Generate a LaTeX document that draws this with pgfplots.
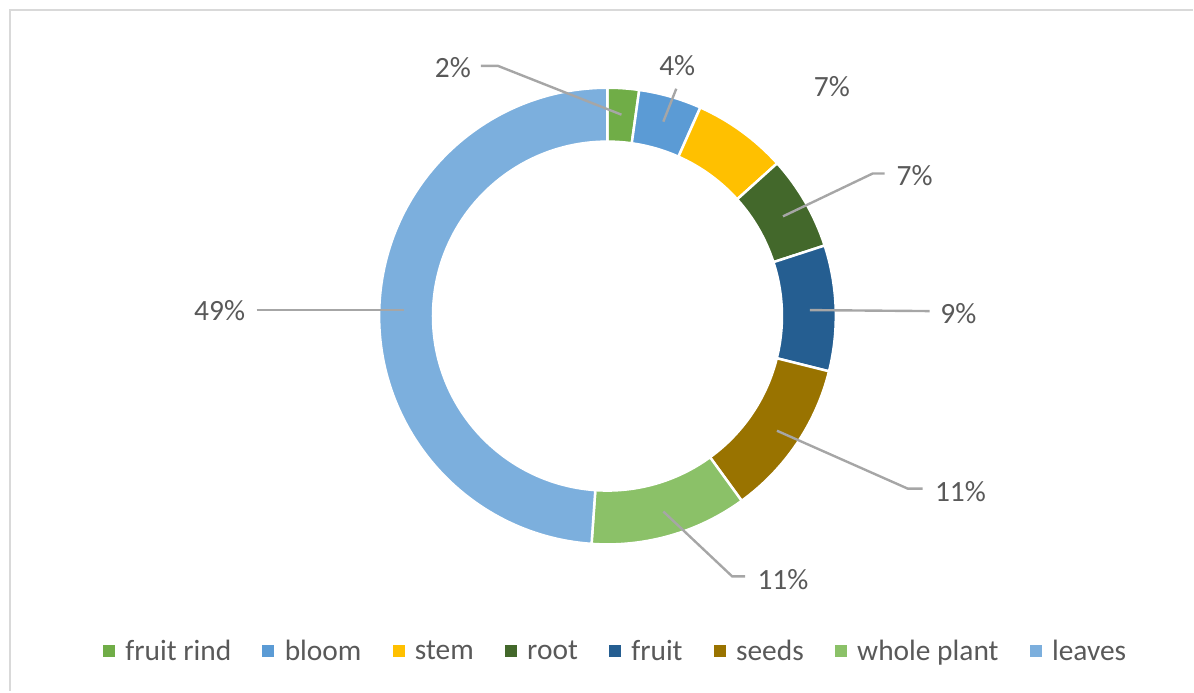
\documentclass[border=0pt]{standalone}
\usepackage{pgfplots}
\pgfplotsset{compat=1.18}
\usepackage{pgfplotstable}
\usepackage{fontspec}
\setmainfont{Carlito}
\definecolor{cRind}{HTML}{70AD47}
\definecolor{cBloom}{HTML}{5B9BD5}
\definecolor{cStem}{HTML}{FFC000}
\definecolor{cRoot}{HTML}{43682B}
\definecolor{cFruit}{HTML}{255E91}
\definecolor{cSeeds}{HTML}{997300}
\definecolor{cWhole}{HTML}{8BC168}
\definecolor{cLeaves}{HTML}{7CAFDD}
\definecolor{txt}{HTML}{595959}
\definecolor{lead}{HTML}{A6A6A6}
\definecolor{frame}{HTML}{D9D9D9}
\begin{document}
\pgfplotstableread[col sep=comma]{
label,value,color,lx,ly
fruit rind,1,cRind,452,78
bloom,2,cBloom,677,76
stem,3,cStem,832,97
root,3,cRoot,915,186
fruit,4,cFruit,959,324
seeds,5,cSeeds,961,503
whole plant,5,cWhole,783,591
leaves,22,cLeaves,218,321
}\data
\pgfplotstablecreatecol[create col/expr accum={\pgfmathaccuma+\thisrow{value}}{0}]{cum}\data
\pgfplotstablegetelem{7}{cum}\of\data\edef\total{\pgfplotsretval}
\begin{tikzpicture}
\begin{axis}[
  x=1pt, y=1pt,
  xmin=0, xmax=1194, ymin=0, ymax=693,
  y dir=reverse,
  hide axis, clip=false,
  font=\fontsize{29.5}{35}\selectfont,
  legend columns=8,
  legend cell align=left,
  legend style={at={(axis cs:101,653)}, anchor=west, draw=none, fill=none,
    inner sep=0pt, text=txt,
    font=\fontsize{29.5}{35}\selectfont,
    nodes={inner xsep=0pt, inner ysep=2pt},
    /tikz/every odd column/.append style={column sep=11pt},
    /tikz/every even column/.append style={column sep=31.2pt}},
]
\path (axis cs:0,0) rectangle (axis cs:1194,693);
\draw[frame, line width=2.5pt] (axis cs:8,693) -- (axis cs:8,10) -- (axis cs:1194,10);
\pgfplotsinvokeforeach{0,...,7}{%
  \pgfplotstablegetelem{#1}{value}\of\data\edef\v{\pgfplotsretval}%
  \pgfplotstablegetelem{#1}{cum}\of\data\edef\cu{\pgfplotsretval}%
  \pgfplotstablegetelem{#1}{color}\of\data\edef\col{\pgfplotsretval}%
  \pgfplotstablegetelem{#1}{label}\of\data\edef\lab{\pgfplotsretval}%
  \pgfplotstablegetelem{#1}{lx}\of\data\edef\lx{\pgfplotsretval}%
  \pgfplotstablegetelem{#1}{ly}\of\data\edef\ly{\pgfplotsretval}%
  \pgfmathsetmacro\aS{90-360*(\cu-\v)/\total}%
  \pgfmathsetmacro\aE{90-360*\cu/\total}%
  \pgfmathtruncatemacro\pct{round(100*\v/\total)}%
  \edef\temp{%
    \noexpand\fill[\col, draw=white, line width=2.5pt]
      (axis cs:607,317) ++(\aS:229pt) arc[start angle=\aS, end angle=\aE, radius=229pt]
      -- ([shift={(\aE:175pt)}]axis cs:607,317) arc[start angle=\aE, end angle=\aS, radius=175pt] -- cycle;
    \noexpand\node[anchor=base, text=txt, inner sep=0pt] at (axis cs:\lx,\ly) {\pct\noexpand\%};
    \noexpand\addlegendimage{legend image code/.code={\noexpand\fill[\col] (0pt,-5.5pt) rectangle (11pt,5.5pt);}}
    \noexpand\addlegendentry{\lab}
  }%
  \temp
}
\draw[lead, line width=2.4pt] (axis cs:480,66) -- (axis cs:497,66) -- (axis cs:621,115);
\draw[lead, line width=2.4pt] (axis cs:676,89) -- (axis cs:663,122);
\draw[lead, line width=2.4pt] (axis cs:885,174) -- (axis cs:873,174) -- (axis cs:783,217);
\draw[lead, line width=2.4pt] (axis cs:930,312) -- (axis cs:810,311);
\draw[lead, line width=2.4pt] (axis cs:923,490) -- (axis cs:908,490) -- (axis cs:777,432);
\draw[lead, line width=2.4pt] (axis cs:745,578) -- (axis cs:732,578) -- (axis cs:663,513);
\draw[lead, line width=2.4pt] (axis cs:255,311) -- (axis cs:403,311);
\end{axis}
\end{tikzpicture}
\end{document}
